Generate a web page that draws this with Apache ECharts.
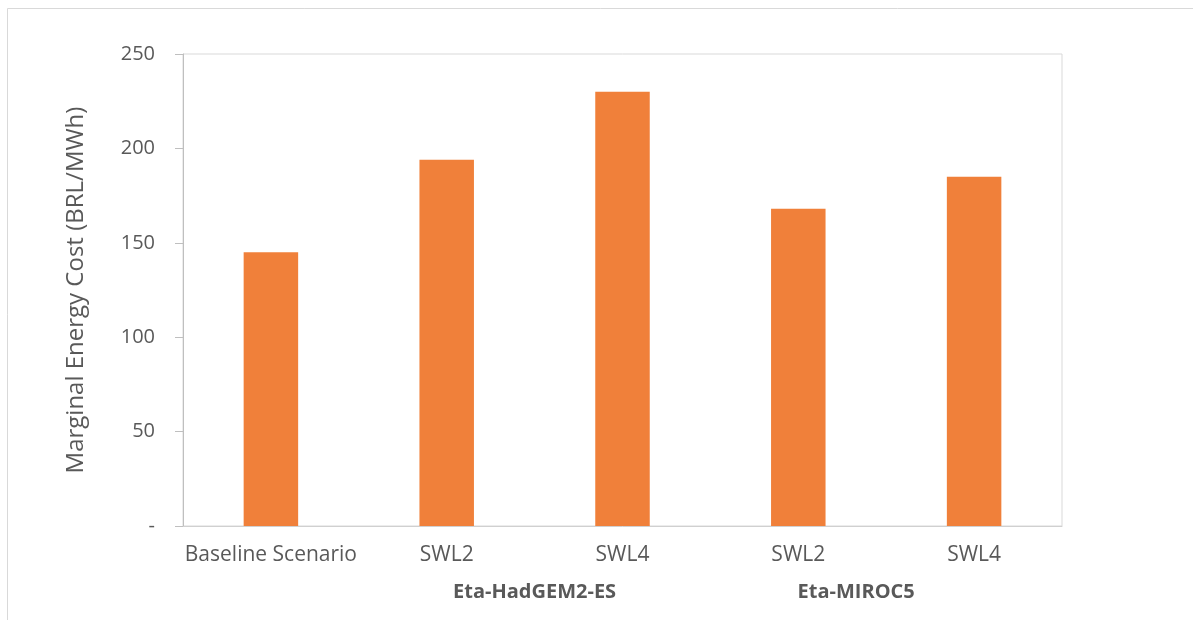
<!DOCTYPE html>
<html>
<head>
<meta charset="utf-8">
<script src="https://cdn.jsdelivr.net/npm/echarts@6/dist/echarts.min.js"></script>
<style>
html,body{margin:0;padding:0;background:#fff;}
#chart{width:1193px;height:620px;}
</style>
</head>
<body>
<div id="chart"></div>
<script>
var categories = ['Baseline Scenario', 'SWL2', 'SWL4', 'SWL2', 'SWL4'];
var costValues = [145, 194, 230, 168, 185];
var groupLabels = ['Eta-HadGEM2-ES', 'Eta-MIROC5'];
var yTicks = [0, 50, 100, 150, 200, 250];
var yAxisTitle = 'Marginal Energy Cost (BRL/MWh)';

var FONT = '"Open Sans", "Liberation Sans", sans-serif';
var chart = echarts.init(document.getElementById('chart'));
var frame = {type: 'rect', x: 7.5, y: 8.5, shape: {x: 0, y: 0, width: 1400, height: 800}, style: {fill: 'none', stroke: '#d9d9d9', lineWidth: 1}, silent: true};
chart.setOption({
  animation: false,
  backgroundColor: '#ffffff',
  grid: {left: 183, right: 131, top: 54, bottom: 94, show: true, borderColor: '#d9d9d9', borderWidth: 1},
  xAxis: {
    type: 'category',
    data: categories,
    axisLine: {lineStyle: {color: '#d0d0d0', width: 1}},
    axisTick: {show: false},
    axisLabel: {color: '#595959', fontSize: 21, fontFamily: FONT, margin: 19, interval: 0}
  },
  yAxis: {
    type: 'value',
    min: yTicks[0], max: yTicks[yTicks.length - 1], interval: 50,
    name: yAxisTitle,
    nameLocation: 'middle',
    nameGap: 95,
    nameTextStyle: {color: '#595959', fontSize: 24, fontFamily: FONT},
    axisLine: {show: true, lineStyle: {color: '#bfbfbf', width: 1}},
    axisTick: {show: true, inside: false, length: 8, lineStyle: {color: '#bfbfbf'}},
    splitLine: {show: false},
    axisLabel: {
      color: '#595959', fontSize: 20, fontFamily: FONT, margin: 28,
      formatter: function (v) { return v === 0 ? '-' : String(v); }
    }
  },
  series: [{
    type: 'bar',
    data: costValues,
    barWidth: '31%',
    itemStyle: {color: '#F0803A'}
  }],
  graphic: [frame]
});

// group labels positioned under their category groups
var p1 = chart.convertToPixel({xAxisIndex: 0}, 1);
var p2 = chart.convertToPixel({xAxisIndex: 0}, 2);
var p3 = chart.convertToPixel({xAxisIndex: 0}, 3);
var p4 = chart.convertToPixel({xAxisIndex: 0}, 4);
chart.setOption({
  graphic: [
    frame,
    {type: 'text', x: (p1 + p2) / 2, y: 592, style: {text: groupLabels[0], fill: '#595959', font: 'bold 20px ' + FONT, textAlign: 'center', textVerticalAlign: 'middle'}},
    {type: 'text', x: (p3 + p4) / 2 - 30, y: 592, style: {text: groupLabels[1], fill: '#595959', font: 'bold 20px ' + FONT, textAlign: 'center', textVerticalAlign: 'middle'}}
  ]
});
</script>
</body>
</html>
